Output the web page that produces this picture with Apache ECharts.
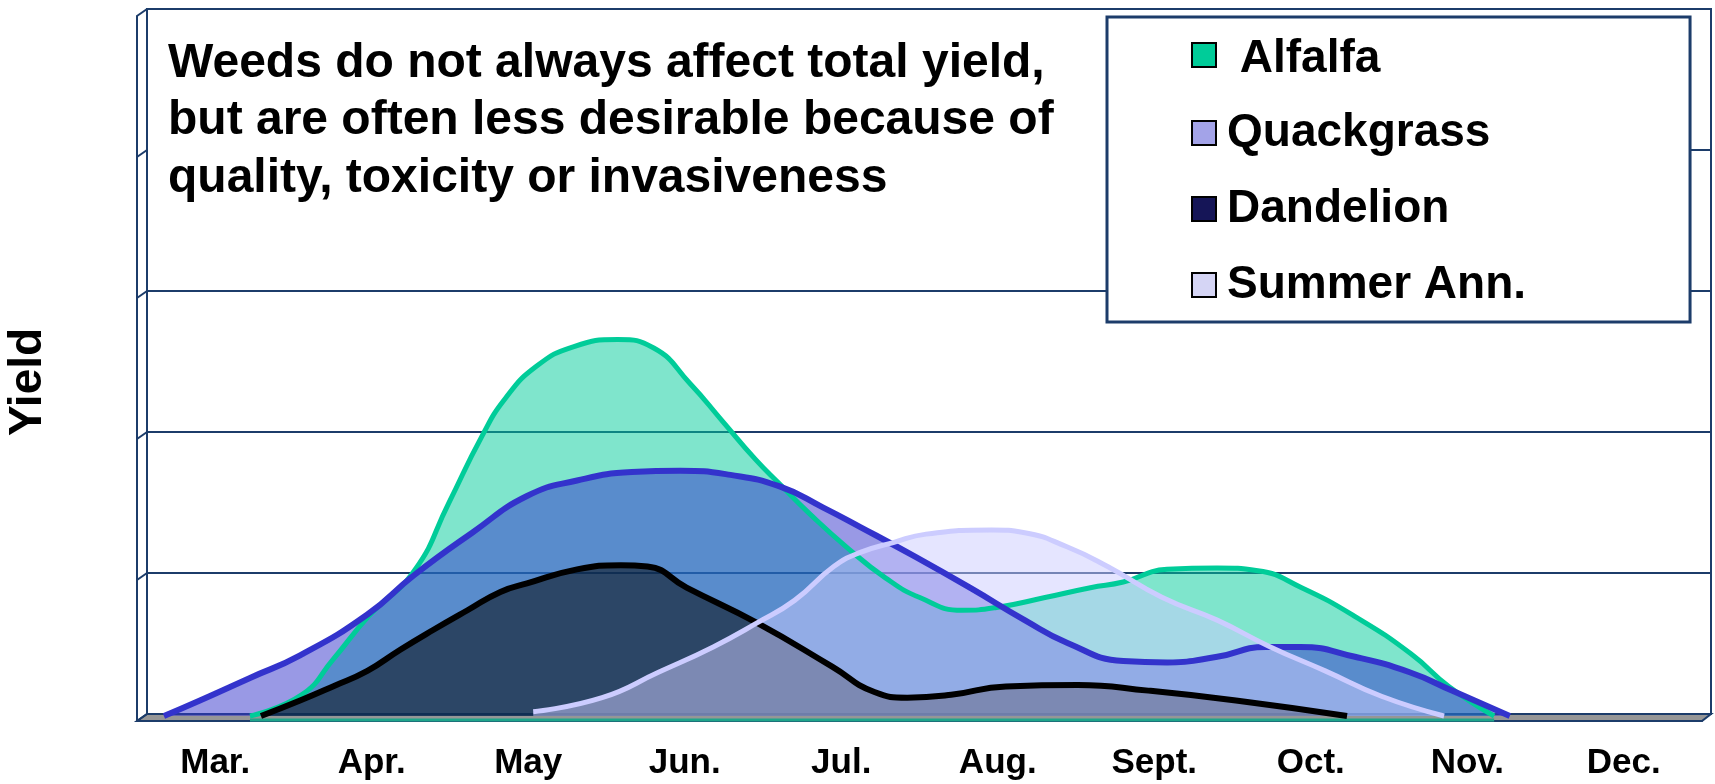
<!DOCTYPE html>
<html><head><meta charset="utf-8">
<script src="https://cdn.jsdelivr.net/npm/echarts@6/dist/echarts.min.js"></script>
<style>html,body{margin:0;padding:0;background:#fff}#c{width:1715px;height:784px}</style>
</head><body><div id="c"></div>
<script>
// x in months from start of March (0 = start of Mar., 10 = end of Dec.), y in gridline units
const months = ['Mar.', 'Apr.', 'May', 'Jun.', 'Jul.', 'Aug.', 'Sept.', 'Oct.', 'Nov.', 'Dec.'];
const alfalfa = [[0.69,0],[1.02,0.15],[1.22,0.40],[1.45,0.71],[1.74,1.03],[1.96,1.51],[2.17,1.98],[2.32,2.25],[2.52,2.48],[2.76,2.62],[3.04,2.67],[3.27,2.61],[3.50,2.36],[3.71,2.09],[3.92,1.82],[4.07,1.65],[4.27,1.43],[4.50,1.20],[4.75,0.98],[4.97,0.84],[5.24,0.75],[5.46,0.77],[5.77,0.84],[6.06,0.91],[6.27,0.95],[6.55,1.04],[6.87,1.05],[7.13,1.03],[7.41,0.91],[7.76,0.70],[8.11,0.44],[8.35,0.21],[8.64,0]];
const quackgrass = [[0.14,0],[0.37,0.11],[0.69,0.27],[1.01,0.43],[1.44,0.72],[1.74,1.00],[2.11,1.30],[2.46,1.56],[2.78,1.67],[3.13,1.73],[3.44,1.74],[3.76,1.71],[4.07,1.63],[4.35,1.48],[4.59,1.34],[4.94,1.13],[5.29,0.91],[5.64,0.68],[5.91,0.52],[6.27,0.39],[6.55,0.38],[6.87,0.42],[7.18,0.49],[7.40,0.49],[7.75,0.42],[8.10,0.31],[8.37,0.18],[8.74,0]];
const dandelion = [[0.76,0],[1.01,0.11],[1.22,0.21],[1.44,0.32],[1.65,0.47],[1.86,0.61],[2.08,0.75],[2.29,0.88],[2.46,0.94],[2.78,1.04],[3.06,1.07],[3.23,1.06],[3.48,0.91],[3.93,0.66],[4.41,0.35],[4.68,0.17],[4.89,0.13],[5.17,0.15],[5.52,0.21],[5.98,0.22],[6.43,0.18],[6.99,0.11],[7.70,0]];
const summerAnn = [[2.50,0.03],[2.94,0.13],[3.30,0.31],[3.65,0.49],[3.93,0.66],[4.17,0.82],[4.42,1.06],[4.59,1.16],[4.80,1.23],[5.01,1.29],[5.43,1.32],[5.64,1.30],[5.91,1.20],[6.17,1.06],[6.52,0.84],[6.87,0.68],[7.21,0.49],[7.56,0.32],[7.92,0.14],[8.32,0]];
const noteLines = ['Weeds do not always affect total yield,', 'but are often less desirable because of', 'quality, toxicity or invasiveness'];
const yAxisTitle = 'Yield';

const FONT = '"Liberation Sans", Arial, sans-serif';
const NAVY = '#1C3C6A';

// layout
const FRONT = {left: 137, right: 13, top: 16, bottom: 63};
const BACK = {left: 147, right: 4, top: 9, bottom: 70};
const DATA = {left: 142, right: 8, top: 11, bottom: 68};
const W = 1715, H = 784;

const chart = echarts.init(document.getElementById('c'), null, {renderer: 'canvas'});

function lineSeries(name, data, lineColor, width, areaColor, itemColor) {
  return {
    name: name, type: 'line', xAxisIndex: 2, yAxisIndex: 2, data: data,
    smooth: 0.5, showSymbol: false, clip: false, silent: true,
    lineStyle: {color: lineColor, width: width, cap: 'butt'},
    itemStyle: {color: itemColor},
    areaStyle: {color: areaColor, opacity: 1, origin: 'start'}
  };
}

// decorative 3D frame pieces
const backY = [];
for (let k = 0; k <= 5; k++) backY.push(H - BACK.bottom - k * (H - BACK.bottom - BACK.top) / 5);
const graphics = [];
graphics.push({type: 'rect', z: 1, silent: true, shape: {x: BACK.left + 1, y: BACK.top + 2, width: 1107 - BACK.left - 1, height: 285 - BACK.top - 2}, style: {fill: '#fff'}});
graphics.push({type: 'polygon', z: 1, silent: true, shape: {points: [[FRONT.left, H - FRONT.bottom], [BACK.left, H - BACK.bottom], [W - BACK.right, H - BACK.bottom], [W - FRONT.right, H - FRONT.bottom]]}, style: {fill: '#969696', stroke: NAVY, lineWidth: 2}});
backY.forEach(function (y) {
  graphics.push({type: 'line', z: 1, silent: true, shape: {x1: FRONT.left, y1: y + 7, x2: BACK.left, y2: y}, style: {stroke: NAVY, lineWidth: 2}});
});
graphics.push({type: 'text', z: 5, silent: true, x: 28, y: 382, rotation: Math.PI / 2, style: {text: yAxisTitle, fontSize: 46, fontWeight: 'bold', fontFamily: FONT, fill: '#000', align: 'center', verticalAlign: 'middle'}});

const legendText = {fontSize: 46, fontWeight: 'bold', fontFamily: FONT, color: '#000'};

const option = {
  animation: false,
  backgroundColor: '#fff',
  title: {
    text: noteLines.join('\n'), left: 168, top: 35, padding: 0, z: 6,
    textStyle: {fontSize: 48, fontWeight: 'bold', fontFamily: FONT, color: '#000', lineHeight: 57.5}
  },
  legend: {
    orient: 'vertical', left: 1107, top: 17, padding: [11, 164, 12, 84],
    itemWidth: 24, itemHeight: 24, itemGap: 26, icon: 'rect', selectedMode: false,
    backgroundColor: '#fff', borderColor: NAVY, borderWidth: 3, borderRadius: 0,
    textStyle: Object.assign({lineHeight: 50, padding: [0, 0, 0, 6], rich: {
      n: Object.assign({lineHeight: 50}, legendText),
      low: Object.assign({lineHeight: 30, padding: [8, 0, 0, 0]}, legendText)
    }}, legendText),
    itemStyle: {borderColor: '#000', borderWidth: 2},
    formatter: function (n) { return n === 'Alfalfa' ? '{low| Alfalfa}' : '{n|' + n + '}'; },
    data: [
      {name: 'Alfalfa', itemStyle: {color: '#00CC99'}},
      {name: 'Quackgrass', itemStyle: {color: '#A3A3E8'}},
      {name: 'Dandelion', itemStyle: {color: '#151557'}},
      {name: 'Summer Ann.', itemStyle: {color: '#D5D5F5'}}
    ]
  },
  grid: [
    Object.assign({}, FRONT),
    Object.assign({show: true, borderColor: NAVY, borderWidth: 2, backgroundColor: 'transparent'}, BACK),
    Object.assign({}, DATA)
  ],
  xAxis: [
    {gridIndex: 0, type: 'category', data: months, boundaryGap: true,
     axisLine: {lineStyle: {color: NAVY, width: 2}},
     axisTick: {length: 10, lineStyle: {color: '#222', width: 1.5}},
     axisLabel: {color: '#000', fontSize: 35, fontWeight: 'bold', fontFamily: FONT, margin: 25},
     splitLine: {show: false}},
    {gridIndex: 1, type: 'value', min: 0, max: 10, show: false},
    {gridIndex: 2, type: 'value', min: 0, max: 10, show: false}
  ],
  yAxis: [
    {gridIndex: 0, type: 'value', min: 0, max: 5, axisLine: {show: true, lineStyle: {color: NAVY, width: 2}},
     axisTick: {show: false}, axisLabel: {show: false}, splitLine: {show: false}},
    {gridIndex: 1, type: 'value', min: 0, max: 5, interval: 1, axisLine: {show: false}, axisTick: {show: false},
     axisLabel: {show: false}, splitLine: {show: true, lineStyle: {color: NAVY, width: 2}}},
    {gridIndex: 2, type: 'value', min: 0, max: 5, show: false}
  ],
  graphic: {elements: graphics},
  series: [
    lineSeries('Alfalfa', alfalfa, '#00CC99', 5, 'rgba(0,204,153,0.5)', '#00CC99'),
    lineSeries('Quackgrass', quackgrass, '#3333CC', 6, 'rgba(51,51,204,0.5)', '#A3A3E8'),
    lineSeries('Dandelion', dandelion, '#000000', 6, 'rgba(0,0,0,0.5)', '#151557'),
    lineSeries('Summer Ann.', summerAnn, '#CCCCFF', 5, 'rgba(204,204,255,0.5)', '#D5D5F5')
  ]
};
chart.setOption(option);

// alfalfa front edge strip along the floor (from its data extent)
const a0 = chart.convertToPixel({xAxisIndex: 2, yAxisIndex: 2}, alfalfa[0]);
const a1 = chart.convertToPixel({xAxisIndex: 2, yAxisIndex: 2}, alfalfa[alfalfa.length - 1]);
graphics.push({type: 'line', z: 3, silent: true, shape: {x1: a0[0], y1: H - FRONT.bottom - 1, x2: a1[0], y2: H - FRONT.bottom - 1}, style: {stroke: '#1FA58A', lineWidth: 3}});
chart.setOption({graphic: {elements: graphics}});
</script></body></html>
